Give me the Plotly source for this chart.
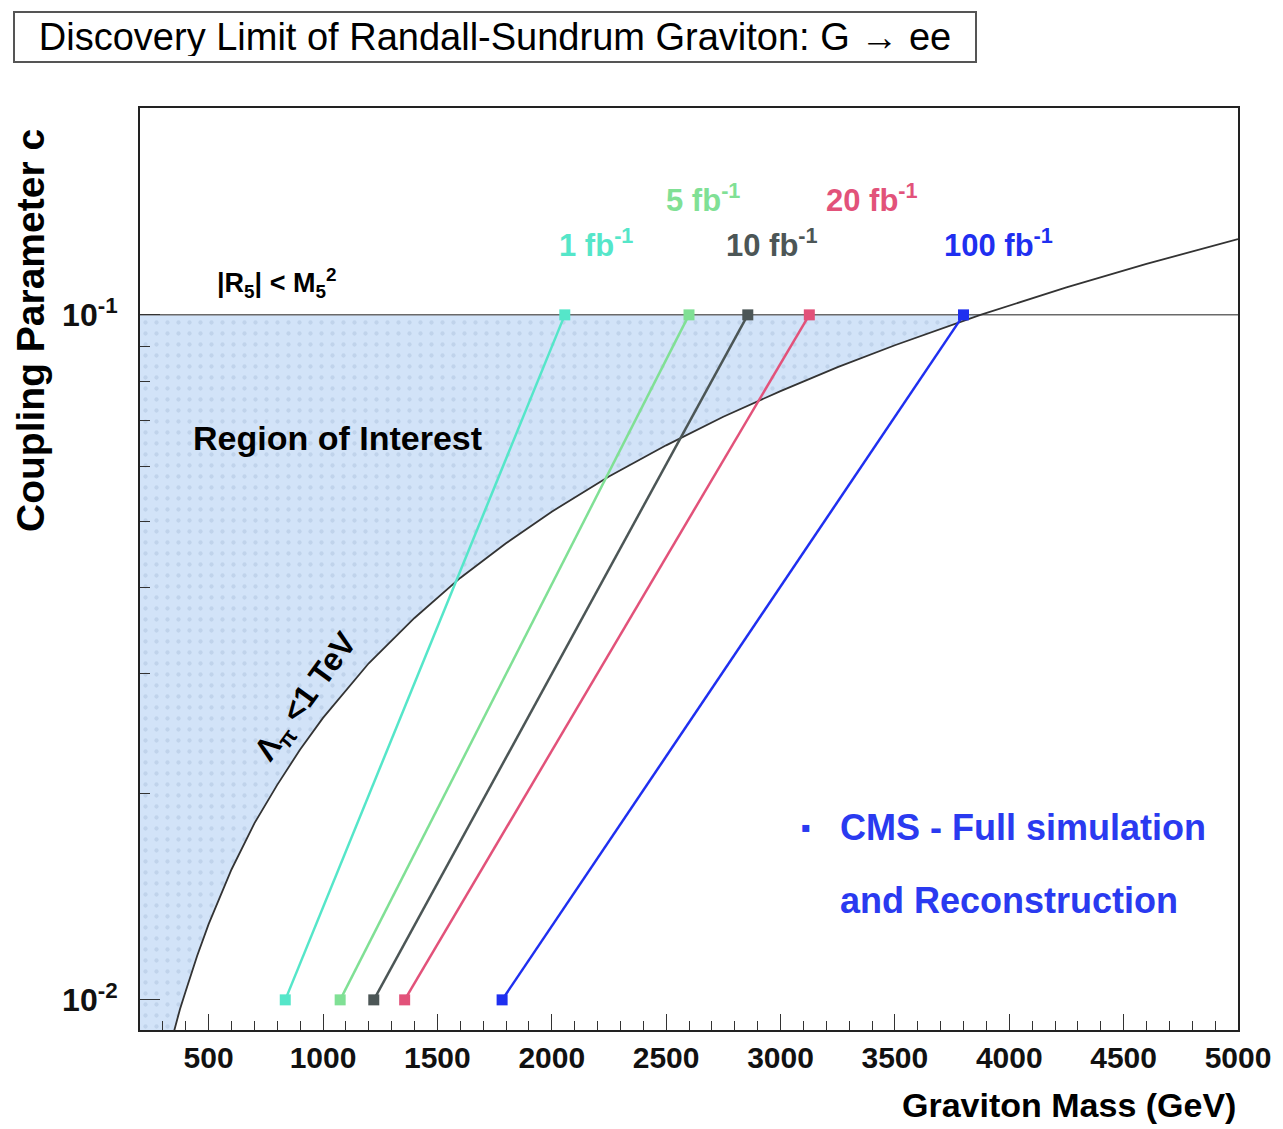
import plotly.graph_objects as go

# ---------------- data ----------------
lumi_labels = ["1 fb<sup>-1</sup>", "5 fb<sup>-1</sup>", "10 fb<sup>-1</sup>",
               "20 fb<sup>-1</sup>", "100 fb<sup>-1</sup>"]
mass_at_c001 = [835, 1075, 1222, 1357, 1783]     # GeV, discovery reach at c = 0.01
mass_at_c01 = [2057, 2600, 2857, 3126, 3800]     # GeV, discovery reach at c = 0.1
c_low = 0.01
c_high = 0.1
lumi_colors = ["#55e6c9", "#80e095", "#4c5656", "#e2527a", "#1f2ff0"]

# Lambda_pi < 1 TeV boundary
lambda_mass = [345, 375, 400, 450, 500, 600, 700, 800, 900, 1000, 1200, 1400, 1600,
               1800, 2000, 2250, 2500, 2750, 3000, 3250, 3500, 3874, 4250, 4600, 5000]
lambda_c = [0.0089, 0.0097, 0.0103, 0.0116, 0.0129, 0.0155, 0.0181, 0.0206, 0.0232,
            0.0258, 0.0310, 0.0361, 0.0413, 0.0464, 0.0516, 0.0581, 0.0645, 0.0710,
            0.0774, 0.0839, 0.0903, 0.1000, 0.1097, 0.1187, 0.1290]

# |R5| < M5^2 limit
r5_c = 0.1

x_ticks = [500, 1000, 1500, 2000, 2500, 3000, 3500, 4000, 4500, 5000]
y_ticks = [0.01, 0.1]
y_ticktext = ["10<sup>-2</sup>", "10<sup>-1</sup>"]
y_minor = [0.02, 0.03, 0.04, 0.05, 0.06, 0.07, 0.08, 0.09, 0.2]

X_RANGE = [200, 5000]
Y_RANGE_LOG = [-2.044, -0.698]

# ---------------- layout helpers ----------------
W, H = 1283, 1129
L, R, T, B = 140, 1238, 108, 1030
FONT = "Liberation Sans, Arial, sans-serif"


def px(xp):
    return (xp - L) / (R - L)


def py(yp):
    return (B - yp) / (B - T)


fig = go.Figure()

# shaded "region of interest": left of the Lambda curve and below c = 0.1
n_in = sum(1 for c in lambda_c if c <= r5_c)
fill_x = [X_RANGE[0]] + lambda_mass[:n_in] + [X_RANGE[0]]
fill_y = [lambda_c[0]] + lambda_c[:n_in] + [r5_c]
fig.add_trace(go.Scatter(
    x=fill_x, y=fill_y, fill="toself", mode="none",
    fillcolor="#d2e3f8",
    fillpattern=dict(shape=".", bgcolor="#d2e3f8", fgcolor="#aec3de", size=11, solidity=0.12),
    hoverinfo="skip", showlegend=False))

# horizontal |R5| < M5^2 line
fig.add_trace(go.Scatter(x=X_RANGE, y=[r5_c, r5_c], mode="lines",
                         line=dict(color="#6a6a6a", width=1.5), showlegend=False))

# Lambda_pi < 1 TeV curve
fig.add_trace(go.Scatter(x=lambda_mass, y=lambda_c, mode="lines",
                         line=dict(color="#333333", width=1.8), showlegend=False))

# discovery lines
for lab, m0, m1, col in zip(lumi_labels, mass_at_c001, mass_at_c01, lumi_colors):
    fig.add_trace(go.Scatter(x=[m0, m1], y=[c_low, c_high], mode="lines+markers",
                             line=dict(color=col, width=2.5),
                             marker=dict(symbol="square", size=11, color=col),
                             name=lab, showlegend=False))

# ---------------- annotations ----------------
ann = []


def add_text(text, x, y, size=28, color="black", bold=True, xanchor="center",
             yanchor="middle", angle=0):
    ann.append(dict(text=text, x=px(x), y=py(y), xref="paper", yref="paper",
                    showarrow=False, xanchor=xanchor, yanchor=yanchor, textangle=angle,
                    font=dict(family=FONT, size=size, color=color,
                              weight="bold" if bold else "normal")))


# title box
ann.append(dict(text="Discovery Limit of Randall-Sundrum Graviton: G \u2192 ee",
                x=px(495), y=py(37), xref="paper", yref="paper", showarrow=False,
                xanchor="center", yanchor="middle",
                font=dict(family=FONT, size=38, color="black"),
                bordercolor="#555555", borderwidth=2, borderpad=5, bgcolor="white",
                width=950, height=38))

add_text("|R<sub>5</sub>| < M<sub>5</sub><sup>2</sup>", 276, 283, size=27)
add_text("Region of Interest", 337, 438, size=34)
add_text("\u039b<sub>\u03c0</sub> <1 TeV", 307, 697, size=32, angle=-54)

lumi_label_pos = [(596, 243), (703, 198), (772, 243), (872, 198), (998, 243)]
for lab, col, (xx, yy) in zip(lumi_labels, lumi_colors, lumi_label_pos):
    add_text(lab, xx, yy, size=31, color=col)

add_text("\u25aa", 806, 827, size=28, color="#2a3af0")
add_text("CMS - Full simulation", 838, 827, size=36, color="#2a3af0", xanchor="left")
add_text("and Reconstruction", 838, 900, size=36, color="#2a3af0", xanchor="left")

# axis titles
add_text("Coupling Parameter c", 30, 331, size=39, angle=-90)
add_text("Graviton Mass (GeV)", 1238, 1105, size=34, xanchor="right")

fig.update_layout(
    width=W, height=H,
    margin=dict(l=L, r=W - R, t=T, b=H - B, pad=0),
    paper_bgcolor="white", plot_bgcolor="white",
    annotations=ann,
    showlegend=False,
    font=dict(family=FONT),
)

fig.update_xaxes(
    range=X_RANGE, tickmode="array", tickvals=x_ticks,
    ticks="inside", ticklen=16, tickwidth=1.3, tickcolor="#333",
    minor=dict(ticks="inside", dtick=100, tick0=0, ticklen=9, tickwidth=1.1, tickcolor="#333"),
    showline=True, linecolor="#222", linewidth=2, mirror=True,
    showgrid=False, zeroline=False,
    tickfont=dict(family=FONT, size=30, color="#111", weight="bold"),
)
fig.update_yaxes(
    type="log", range=Y_RANGE_LOG, tickmode="array", tickvals=y_ticks, ticktext=y_ticktext,
    ticks="inside", ticklen=20, tickwidth=1.3, tickcolor="#333",
    minor=dict(ticks="inside", tickmode="array", tickvals=y_minor, ticklen=10,
               tickwidth=1.1, tickcolor="#333"),
    showline=True, linecolor="#222", linewidth=2, mirror=True,
    showgrid=False, zeroline=False, ticklabelstandoff=14,
    tickfont=dict(family=FONT, size=32, color="#111", weight="bold"),
)

fig.write_html("out.html")
